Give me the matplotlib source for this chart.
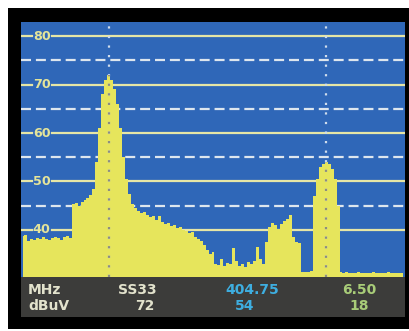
import numpy as np
import matplotlib.pyplot as plt
from matplotlib.patches import Rectangle

# spectrum trace, dBuV, evenly spaced across the span
level = [38.8, 39.0, 37.8, 38.2, 38.0, 38.4, 38.1, 38.5, 38.2, 37.9,
         38.3, 38.6, 38.4, 38.0, 38.5, 38.7, 38.3, 45.3, 45.6, 45.0,
         45.8, 46.2, 46.5, 47.2, 48.5, 54.0, 61.0, 68.0, 71.0, 72.0,
         71.0, 69.0, 66.0, 61.0, 55.0, 50.5, 47.5, 45.3, 44.5, 44.0,
         43.6, 43.8, 43.0, 42.6, 42.8, 42.0, 42.9, 41.6, 41.3, 41.5,
         40.8, 41.0, 40.4, 40.6, 39.9, 39.7, 39.3, 39.5, 38.6, 38.2,
         37.8, 37.0, 35.8, 35.0, 35.5, 33.0, 32.8, 34.0, 32.5, 33.2,
         33.0, 36.3, 33.5, 32.6, 33.0, 32.4, 33.3, 33.0, 33.6, 36.4,
         34.0, 33.0, 37.5, 40.6, 41.4, 41.0, 40.2, 41.2, 41.8, 42.3,
         43.0, 38.5, 37.6, 37.3, 31.4, 31.3, 31.4, 31.5, 47.0, 50.5,
         53.0, 53.7, 54.0, 53.6, 52.5, 50.5, 45.0, 31.3, 31.2, 31.3,
         31.2, 31.1, 31.2, 31.3, 31.2, 31.2, 31.1, 31.2, 31.3, 31.2,
         31.1, 31.2, 31.2, 31.3, 31.2, 31.1, 31.2, 31.2, 31.2]
f_start, f_stop = 395.67, 407.06
freq = np.linspace(f_start, f_stop, len(level))

channel = "SS33"
marker_freq = [398.25, 404.75]
marker_level = [72, 54]

major = [40, 50, 60, 70, 80]
minor = [45, 55, 65, 75]

W, H = 409, 331


def px(x, y):
    return x / W, (H - y) / H


fig = plt.figure(figsize=(W / 100, H / 100), dpi=100)
fig.patch.set_facecolor('white')
fig.patches.append(Rectangle(px(8, 329), 401 / W, 321 / H, transform=fig.transFigure,
                             facecolor='black', edgecolor='none', zorder=-2))
fig.patches.append(Rectangle(px(21, 317), 384 / W, 40 / H, transform=fig.transFigure,
                             facecolor='#3c3c3a', edgecolor='none', zorder=-1))

ax = fig.add_axes([21 / W, (H - 277) / H, 384 / W, 255 / H])
ax.set_zorder(2)
ax.set_facecolor('#2f67b8')
ax.set_xlim(f_start - 0.045, f_stop + 0.045)
ax.set_ylim(30.3, 82.9)
ax.set_xticks([])
ax.set_yticks([])
for s in ax.spines.values():
    s.set_visible(False)

yt = ax.get_yaxis_transform()
for v in major:
    ax.plot([0, 0.0286], [v, v], color='#e6e6a6', lw=1.6, transform=yt, zorder=1)
    ax.plot([0.081, 1], [v, v], color='#e6e6a6', lw=1.6, transform=yt, zorder=1)
    ax.text(0.054, v, str(v), transform=yt, ha='center', va='center',
            fontsize=9.2, fontweight='bold', color='#e4e49a', zorder=5)
for v in minor:
    ax.plot([0, 1], [v, v], color='#dde6ee', lw=1.6, transform=yt,
            linestyle=(0, (4.5, 2.2)), zorder=1)

fill = ax.fill_between(freq, 0, level, step='mid', color='#e6e55c', lw=0, zorder=2)

# marker lines: light over the background, grey over the trace
for f in marker_freq:
    ax.plot([f, f], [30.3, 82.9], color='#cfdcec', lw=1.6,
            linestyle=(0, (1, 3.3)), zorder=3)
    dark, = ax.plot([f, f], [30.3, 82.9], color='#8e8e7c', lw=1.6,
                    linestyle=(0, (1, 3.3)), zorder=4)
    dark.set_clip_path(fill.get_paths()[0], transform=ax.transData)

fs = 10
txt = dict(fontsize=fs, fontweight='bold', va='center', zorder=5)
fig.text(*px(28, 290), "MHz", color='#e2e2cc', ha='left', **txt)
fig.text(*px(28, 306), "dBuV", color='#e2e2cc', ha='left', **txt)
fig.text(*px(118, 290), channel, color='#e2e2cc', ha='left', **txt)
fig.text(*px(155, 306), f"{marker_level[0]}", color='#e2e2cc', ha='right', **txt)
fig.text(*px(252, 290), f"{marker_freq[1]:.2f}", color='#3eaee0', ha='center', **txt)
fig.text(*px(245, 306), f"{marker_level[1]}", color='#3eaee0', ha='center', **txt)
fig.text(*px(359, 290), f"{marker_freq[1] - marker_freq[0]:.2f}", color='#a8cc78', ha='center', **txt)
fig.text(*px(359, 306), f"{marker_level[0] - marker_level[1]}", color='#a8cc78', ha='center', **txt)

fig.savefig('out.png', dpi=100)
